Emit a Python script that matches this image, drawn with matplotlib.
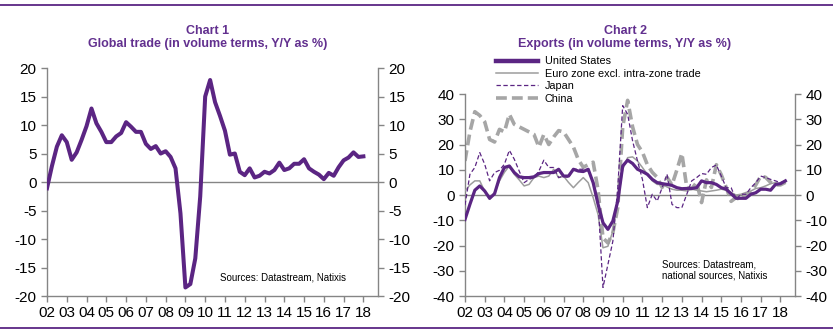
import numpy as np
import matplotlib
matplotlib.use("Agg")
from matplotlib import pyplot as plt
from matplotlib.lines import Line2D

plt.rcParams['font.family'] = ['Liberation Sans', 'DejaVu Sans']

PURPLE = '#5b2583'
TITLE_PURPLE = '#62308f'
GREY_AXIS = '#858585'

# quarterly observations, 2002Q1 onwards
global_trade = [
    -1.1, 2.8, 6.2, 8.2, 7.0, 3.9, 5.2, 7.4, 9.8, 12.9, 10.3, 8.8, 7.0, 7.0, 8.0, 8.6,
    10.5, 9.7, 8.8, 8.8, 6.7, 5.8, 6.3, 5.0, 5.4, 4.4, 2.4, -5.5, -18.5, -17.9, -13.4, -2.5,
    15.0, 17.9, 14.0, 11.6, 9.0, 4.8, 5.0, 1.8, 1.2, 2.4, 0.8, 1.1, 1.8, 1.5, 2.1, 3.4,
    2.1, 2.4, 3.2, 3.2, 4.0, 2.4, 1.8, 1.3, 0.5, 1.6, 1.1, 2.6, 3.8, 4.3, 5.2, 4.4, 4.5,
]

us_exports = [
    -9.7, -3.7, 1.9, 3.6, 1.6, -1.3, 0.5, 6.9, 10.9, 11.5, 8.9, 7.2, 6.9, 6.9, 7.2, 8.5,
    8.9, 8.9, 8.9, 10.2, 7.5, 7.5, 10.2, 9.5, 9.3, 10.2, 4.9, -3.7, -11.0, -13.6, -10.3, -2.4,
    11.5, 13.8, 12.5, 10.2, 9.3, 8.2, 6.2, 4.9, 4.5, 4.2, 3.8, 2.9, 2.5, 2.6, 2.6, 2.9,
    5.6, 4.9, 4.9, 4.2, 2.9, 2.3, 0.5, -1.3, -1.3, -1.3, 0.3, 0.9, 2.3, 2.3, 1.9, 4.2,
    4.5, 5.6,
]
euro_exports = [
    1.6, 4.0, 5.6, 5.6, 1.5, -1.7, 1.0, 5.6, 9.0, 11.5, 8.2, 6.0, 3.6, 4.2, 6.9, 7.5,
    6.9, 7.5, 10.2, 6.9, 7.5, 5.0, 2.9, 5.0, 6.9, 4.9, -1.0, -7.7, -20.9, -20.3, -14.3, -2.4,
    10.2, 14.8, 15.1, 13.5, 10.9, 8.2, 5.6, 4.2, 4.2, 3.2, 2.3, 1.9, 1.9, 1.6, 2.3, 1.9,
    1.6, 1.3, 1.6, 1.9, 2.3, 1.9, 1.0, 0.0, 0.3, 1.0, 1.6, 2.6, 2.9, 3.6, 4.5, 4.9,
    4.2, 4.9,
]
japan_exports = [
    -4.0, 8.2, 10.9, 16.8, 12.2, 5.6, 8.9, 9.8, 12.2, 17.7, 14.2, 9.5, 4.9, 6.2, 6.9, 9.5,
    13.8, 10.9, 10.9, 6.9, 7.5, 6.9, 10.2, 10.2, 10.2, 9.5, 5.6, -2.4, -36.6, -27.5, -18.3, 2.9,
    35.4, 32.0, 21.5, 13.5, 6.2, -5.0, 0.3, -2.4, 2.9, 8.2, -3.7, -5.0, -5.0, 0.3, 5.6, 6.9,
    8.5, 8.2, 10.9, 11.9, 7.5, 2.9, 2.9, -1.7, 0.3, 0.3, 2.9, 4.9, 7.5, 6.9, 6.2, 5.6,
    4.9, 5.6,
]
china_exports = [
    13.5, 25.0, 33.0, 31.5, 29.0, 22.0, 21.0, 26.0, 25.0, 32.0, 28.0, 27.0, 26.0, 25.0, 24.0, 19.0,
    24.0, 20.0, 23.0, 25.5, 25.0, 22.0, 19.0, 14.0, 11.0, 12.0, 13.0, 2.0, -17.0, -19.0, -15.0, -5.0,
    27.0, 37.5, 27.0, 20.0, 17.0, 12.0, 9.0, 7.0, 3.0, 7.0, 4.0, 10.0, 16.5, 3.0, 2.5, 5.0,
    -3.0, 6.0, 3.0, 12.0, 8.0, 3.0, -2.5, -1.0, -2.0, 0.0, 1.0, 4.0, 7.5, 7.0, 5.0, 4.0,
    4.0, 5.0,
]

years = list(range(2002, 2019))
year_labels = ['%02d' % (y % 100) for y in years]


def quarters(n):
    return 2002 + 0.25 * np.arange(n)


def style_axes(ax, ylim, step):
    ax.set_xlim(2002, 2018.74)
    ax.set_ylim(*ylim)
    ticks = np.arange(ylim[0], ylim[1] + step, step)
    ax.set_yticks(ticks)
    ax.set_yticklabels(['%d' % t for t in ticks])
    ax.set_xticks(years)
    ax.set_xticklabels(year_labels)
    ax.axhline(0, color=GREY_AXIS, lw=1.0, zorder=1)
    for side in ('left', 'right', 'bottom'):
        ax.spines[side].set_color(GREY_AXIS)
        ax.spines[side].set_linewidth(1.0)
    ax.spines['top'].set_visible(False)
    ax.tick_params(axis='both', colors=GREY_AXIS, labelcolor='black', labelsize=11,
                   length=4.5, width=1.0, direction='out', pad=3)
    ax.tick_params(axis='y', right=True, labelright=True)


def page_text(x, y, s, **kw):
    # positions in pixels from the top-left corner of the figure
    fig.text(x / 833, 1 - y / 332, s, **kw)


fig = plt.figure(figsize=(8.33, 3.32), dpi=100)

# chart 1: global trade
ax1 = fig.add_axes([0.0564, 0.1084, 0.3974, 0.6867])
style_axes(ax1, (-20, 20), 5)
ax1.plot(quarters(len(global_trade)), global_trade, color=PURPLE, lw=2.9,
         solid_joinstyle='round', zorder=3)
page_text(208, 31, 'Chart 1', ha='center', va='center',
          color=TITLE_PURPLE, fontsize=9, fontweight='bold')
page_text(208, 44.5, 'Global trade (in volume terms, Y/Y as %)', ha='center', va='center',
          color=TITLE_PURPLE, fontsize=9, fontweight='bold')
page_text(220, 278, 'Sources: Datastream, Natixis', ha='left', va='center', fontsize=7)

# chart 2: exports by region
ax2 = fig.add_axes([0.5582, 0.1084, 0.3962, 0.6084])
style_axes(ax2, (-40, 40), 10)
q = quarters(len(us_exports))
ax2.plot(q, china_exports, color='#a6a6a6', lw=2.6, dashes=(3.0, 1.4), zorder=2)
ax2.plot(q, euro_exports, color='#9d9d9d', lw=1.1, zorder=3)
ax2.plot(q, japan_exports, color=PURPLE, lw=0.9, dashes=(3.5, 2.0), zorder=4)
ax2.plot(q, us_exports, color=PURPLE, lw=2.3, solid_joinstyle='round', zorder=5)
page_text(625, 31, 'Chart 2', ha='center', va='center',
          color=TITLE_PURPLE, fontsize=9, fontweight='bold')
page_text(625, 44.5, 'Exports (in volume terms, Y/Y as %)', ha='center', va='center',
          color=TITLE_PURPLE, fontsize=9, fontweight='bold')
page_text(662, 270, 'Sources: Datastream,\nnational sources, Natixis',
          ha='left', va='center', fontsize=7, linespacing=1.15)

handles = [
    Line2D([], [], color=PURPLE, lw=3.2),
    Line2D([], [], color='#9d9d9d', lw=1.1),
    Line2D([], [], color=PURPLE, lw=0.9, dashes=(3.5, 2.0)),
    Line2D([], [], color='#a6a6a6', lw=2.6, dashes=(3.0, 1.4)),
]
labels = ['United States', 'Euro zone excl. intra-zone trade', 'Japan', 'China']
fig.legend(handles, labels, loc='upper left', bbox_to_anchor=(496 / 833, 1 - 56.5 / 332),
           frameon=False, fontsize=7.8, handlelength=3.9, handletextpad=0.6,
           labelspacing=0.22, borderpad=0, borderaxespad=0)

# purple rules framing the page
for yy in (1 - 4.5 / 332, 1 - 328 / 332):
    fig.add_artist(Line2D([0, 1], [yy, yy], transform=fig.transFigure,
                          color=PURPLE, lw=1.3))

fig.savefig('out.png', dpi=100)
